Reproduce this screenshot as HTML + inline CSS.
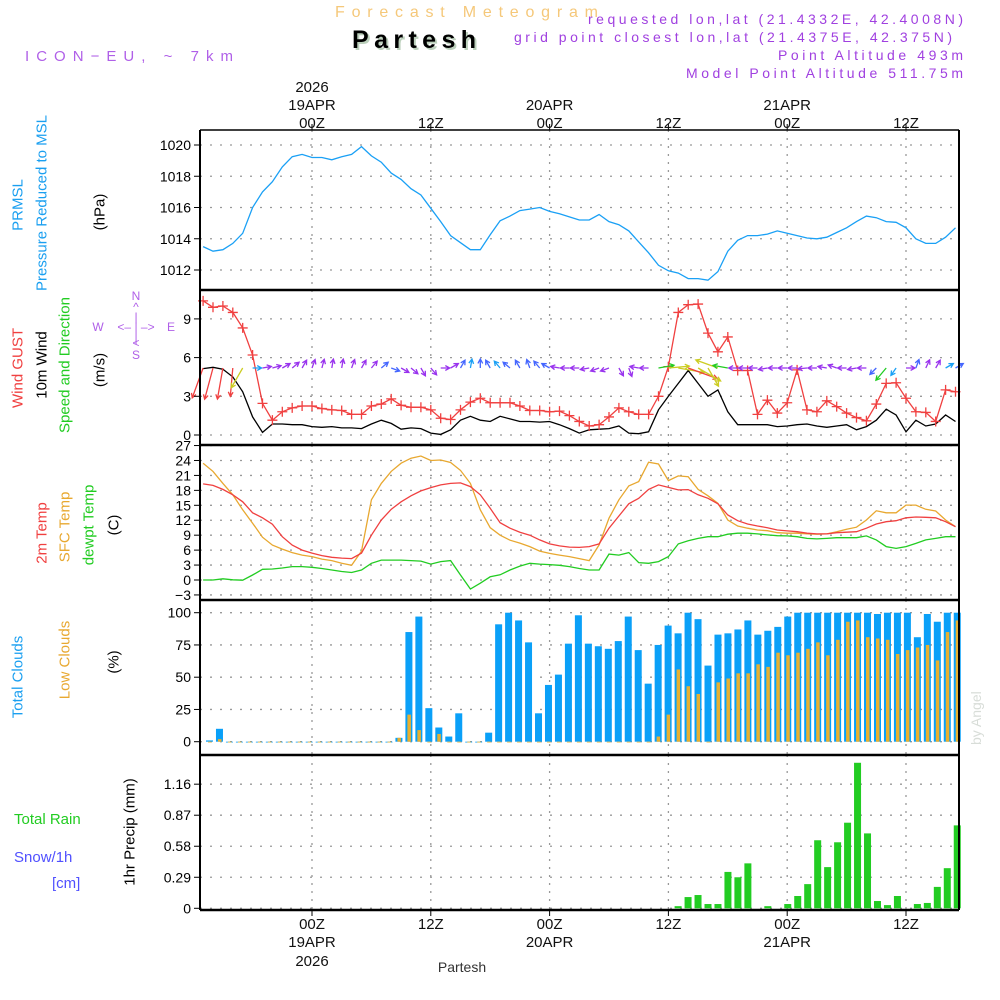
<!DOCTYPE html>
<html><head><meta charset="utf-8"><style>
html,body{margin:0;padding:0;background:#fff}
svg{display:block}
text{font-family:"Liberation Sans",sans-serif}
</style></head><body>
<svg id="chart" width="1000" height="1000" viewBox="0 0 1000 1000" xmlns="http://www.w3.org/2000/svg">
<rect x="0" y="0" width="1000" height="1000" fill="#fff"/>
<text x="335" y="17" font-size="16" fill="#f5c87a" textLength="263">Forecast Meteogram</text>
<text x="354" y="50" font-size="25" font-weight="bold" fill="#bcd0bc" font-family="Liberation Mono" textLength="124">Partesh</text>
<text x="352" y="48" font-size="25" font-weight="bold" fill="#000" font-family="Liberation Mono" textLength="124">Partesh</text>
<text x="25" y="61" font-size="15" fill="#b060e8" textLength="208">ICON−EU, ~ 7km</text>
<text x="588" y="24" font-size="14" fill="#a040e0" textLength="375">requested lon,lat (21.4332E, 42.4008N)</text>
<text x="514" y="42" font-size="14" fill="#a040e0" textLength="438">grid point closest lon,lat (21.4375E, 42.375N)</text>
<text x="778" y="60" font-size="14" fill="#a040e0" textLength="185">Point Altitude 493m</text>
<text x="686" y="78" font-size="14" fill="#a040e0" textLength="277">Model Point Altitude 511.75m</text>
<text x="0" y="0" font-size="14" fill="#d8ddd8" font-family="Liberation Serif" transform="translate(981,745) rotate(-90)">by Angel</text>
<text x="462" y="972" font-size="14" fill="#333" font-family="Liberation Mono" text-anchor="middle">Partesh</text>
<g id="labels"></g>
<g id="grid"></g>
<g id="marks"></g>
<g id="frame"></g>
</svg>
<script>
// ---- data (hourly from h=-11, hours relative to 00Z 19APR) ----
const startHour = -11;
const pressure = [1013.5,1013.2,1013.3,1013.7,1014.35,1016.0,1017.0,1017.65,1018.6,1019.25,1019.4,1019.2,1019.2,1019.05,1019.25,1019.4,1019.9,1019.3,1018.9,1018.2,1017.8,1017.2,1016.8,1015.95,1015.1,1014.2,1013.75,1013.3,1013.3,1014.25,1015.15,1015.45,1015.8,1015.9,1016.0,1015.75,1015.6,1015.4,1015.2,1015.2,1015.55,1015.1,1014.9,1014.5,1013.8,1013.1,1012.3,1011.95,1011.8,1011.45,1011.45,1011.35,1011.9,1013.2,1013.9,1014.2,1014.2,1014.3,1014.5,1014.35,1014.2,1014.05,1014.0,1014.1,1014.4,1014.7,1015.1,1015.45,1015.35,1015.1,1015.05,1014.7,1014.0,1013.7,1013.7,1014.1,1014.7];
const gust = [10.4,9.9,10.0,9.5,8.3,6.2,2.45,1.15,1.8,2.1,2.25,2.25,2.05,1.95,1.9,1.6,1.6,2.25,2.4,2.8,2.3,2.15,2.15,1.95,1.3,1.2,1.95,2.55,2.85,2.5,2.5,2.5,2.25,1.9,1.9,1.8,1.85,1.5,1.05,0.7,0.8,1.4,2.1,1.8,1.6,1.6,3.0,5.3,9.5,10.1,10.15,7.9,6.45,7.6,5.0,5.0,1.6,2.7,1.7,2.5,5.05,1.95,1.8,2.65,2.2,1.7,1.35,1.1,2.4,4.0,4.05,2.85,1.8,1.75,1.05,3.5,3.35];
const windSpeed = [5.15,5.25,5.1,4.5,3.35,1.4,0.2,0.85,0.85,0.8,0.8,0.65,0.6,0.65,0.55,0.55,0.5,0.85,1.15,0.9,0.45,0.55,0.5,0.15,0.05,0.4,1.15,1.45,1.15,1.05,1.45,1.25,1.05,1.05,1.0,1.05,0.8,0.5,0.15,0.4,0.45,0.5,0.7,0.15,0.1,0.25,1.95,3.0,4.0,5.0,4.0,3.0,3.5,1.8,0.8,0.8,0.8,0.8,0.65,0.7,0.8,0.85,0.7,0.6,0.7,0.8,0.4,0.65,1.15,2.0,1.55,0.25,1.15,0.7,0.85,1.55,1.05];
const windDir = [-110,-105,-100,-95,-120,0,10,15,30,40,60,70,75,80,80,70,60,50,40,-20,-30,-40,-60,-50,0,30,60,80,90,120,130,140,120,110,130,150,170,180,180,190,200,200,-60,-70,170,180,10,5,-10,-20,-30,-60,160,170,180,180,180,190,180,180,180,185,180,170,160,180,190,180,225,230,235,0,70,65,60,30,30];
const temp2m = [19.3,19.0,18.2,17.1,15.7,13.5,12.5,11.2,8.7,7.0,6.0,5.4,4.9,4.55,4.4,4.3,5.4,9.0,12.05,14.2,15.7,16.9,17.9,18.55,19.1,19.4,19.5,18.75,17.1,14.4,11.5,10.4,9.6,9.0,8.05,7.25,6.85,6.6,6.55,6.7,7.25,10.4,12.85,15.3,16.4,18.2,19.1,18.6,18.1,18.15,17.1,16.4,15.3,13.05,11.9,11.25,10.85,10.5,10.05,9.85,9.7,9.4,9.25,9.25,9.5,9.6,9.7,10.4,11.25,11.7,11.9,12.5,12.65,12.6,12.5,11.7,10.7];
const tempSfc = [23.45,21.8,19.4,17.1,14.1,11.4,8.6,7.0,6.2,5.5,5.0,4.7,4.2,3.9,3.35,2.95,5.8,16.1,19.4,21.8,23.45,24.45,24.9,24.0,24.1,23.6,22.0,19.4,14.1,10.5,9.0,8.0,7.4,6.7,5.8,5.35,5.0,4.7,4.3,3.9,7.05,12.4,16.1,18.9,19.75,23.65,23.3,19.95,20.9,20.75,18.2,16.9,15.4,12.05,10.85,10.4,10.05,9.9,9.5,9.4,9.4,9.25,9.2,9.25,9.7,10.2,10.6,12.05,13.9,13.5,13.5,15.05,15.05,14.2,13.85,12.05,10.7];
const dewpoint = [0,0,0.25,0.05,-0.05,1.0,2.15,2.2,2.4,2.7,2.7,2.55,2.3,2.0,1.7,1.5,2.0,3.35,4.0,4.0,4.0,3.9,3.8,3.2,3.7,3.9,1.0,-1.8,-0.65,0.65,1.05,2.0,2.8,3.35,3.2,3.1,2.95,2.7,2.3,2.0,2.0,5.2,5.0,5.5,3.5,3.35,3.7,4.7,7.25,7.9,8.35,8.7,8.7,9.2,9.4,9.4,9.25,9.05,8.9,8.85,8.7,8.35,8.25,8.35,8.5,8.5,8.5,8.85,8.05,6.7,6.35,6.7,7.35,8.05,8.35,8.7,8.7];
const totalClouds = [1,10,0,0,0,0,0,0,0,0,0,0,0,0,0,0,0,0,0,3,85,97,26,11,4,22,0,0,7,91,100,94,77,22,44,52,76,98,76,74,72,78,97,71,45,75,90,84,100,95,59,83,84,87,94,83,86,89,97,100,100,100,100,100,100,100,100,99,100,100,100,81,99,93,100,100];
const lowClouds = [0,2,0,0,0,0,0,0,0,0,0,0,0,0,0,0,0,0,0,3,21,9,0,6,0,0,0,0,0,0,0,0,0,0,0,0,0,0,0,0,0,0,0,0,0,4,21,56,43,37,0,46,49,53,53,60,58,69,67,69,72,77,67,79,93,94,81,80,79,68,71,73,75,63,85,94];
const precip = [0,0,0,0,0,0,0,0,0,0,0,0,0,0,0,0,0,0,0,0,0,0,0,0,0,0,0,0,0,0,0,0,0,0,0,0,0,0,0,0,0,0,0,0,0,0,0,0.02,0.105,0.124,0.04,0.04,0.34,0.29,0.42,0,0.02,0,0.04,0.115,0.226,0.636,0.385,0.617,0.80,1.36,0.70,0.068,0.03,0.115,0,0.04,0.05,0.2,0.375,0.775];
const pressureTicks = [1012,1014,1016,1018,1020];
const windTicks = [0,3,6,9];
const tempTicks = [-3,0,3,6,9,12,15,18,21,24,27];
const cloudTicks = [0,25,50,75,100];
const precipTicks = [0,0.29,0.58,0.87,1.16];
const timeTicks = [0,12,24,36,48,60];
const timeHour = ["00Z","12Z","00Z","12Z","00Z","12Z"];
const timeDay = ["19APR","","20APR","","21APR",""];

// ---- scales ----
const X0=200, X1=959;
function xs(h){return 312 + h*9.9;}
function xb(k){return 209.5 + k*9.97;}
function yP(v){return 145 + (1020-v)*15.625;}
function yW(v){return 435 - v*12.9;}
function yT(v){return 580 - v*4.98;}
function yC(v){return 741.7 - v*1.29;}
function yR(v){return 908.3 - v*107;}
const NS="http://www.w3.org/2000/svg";
function mk(tag, attrs, parent){const e=document.createElementNS(NS,tag);for(const k in attrs)e.setAttribute(k,attrs[k]);parent.appendChild(e);return e;}
const gL=document.getElementById('labels'), gG=document.getElementById('grid'), gM=document.getElementById('marks'), gF=document.getElementById('frame');

const panels=[{top:130,bot:290,ticks:pressureTicks,f:yP,fmt:v=>String(v),name:'pressure'},
 {top:290,bot:445,ticks:windTicks,f:yW,fmt:v=>String(v),name:'wind'},
 {top:445,bot:600,ticks:tempTicks,f:yT,fmt:v=>v<0?'−'+(-v):String(v),name:'temperature'},
 {top:600,bot:755,ticks:cloudTicks,f:yC,fmt:v=>String(v),name:'clouds'},
 {top:755,bot:910,ticks:precipTicks,f:yR,fmt:v=>v===0?'0':v.toFixed(2),name:'precip'}];

panels.forEach(p=>{
  p.ticks.forEach(t=>{
    const y=p.f(t);
    const l=mk('line',{x1:X0,x2:X1,y1:y,y2:y,stroke:'#999','stroke-width':1.3,'stroke-dasharray':'2,8'},gG);
    
    
    const tk=mk('line',{x1:X0-6,x2:X0,y1:y,y2:y,stroke:'#000','stroke-width':1},gF);
    
    
    const tx=mk('text',{x:X0-9,y:y+5,'font-size':14,'text-anchor':'end',fill:'#000'},gF);
    tx.textContent=p.fmt(t);
    
    
  });
  timeTicks.forEach(h=>{
    const l=mk('line',{x1:xs(h),x2:xs(h),y1:p.top,y2:p.bot,stroke:'#999','stroke-width':1.3,'stroke-dasharray':'2,6'},gG);
    
    
  });
});
[130,290,445,600,755,910].forEach((y,i)=>{
  const l=mk('line',{x1:X0,x2:X1,y1:y,y2:y,stroke:'#000','stroke-width':(i==0?1.5:2.5)},gF);
  
  
});
[X0,X1].forEach(x=>{const l=mk('line',{x1:x,x2:x,y1:130,y2:910,stroke:'#000','stroke-width':2},gF);
  
  });
timeTicks.forEach((h,i)=>{
  const x=xs(h);
  mk('line',{x1:x,x2:x,y1:124,y2:130,stroke:'#000'},gF);
  mk('line',{x1:x,x2:x,y1:910,y2:916,stroke:'#000'},gF);
  const t1=mk('text',{x:x,y:128,'font-size':15,'text-anchor':'middle',fill:'#111'},gF); t1.textContent=timeHour[i];
  
  
  const b1=mk('text',{x:x,y:929,'font-size':15,'text-anchor':'middle',fill:'#111'},gF); b1.textContent=timeHour[i];
  
  
  if(timeDay[i]){
    const t2=mk('text',{x:x,y:110,'font-size':15,'text-anchor':'middle',fill:'#111'},gF); t2.textContent=timeDay[i];
    
    
    const b2=mk('text',{x:x,y:947,'font-size':15,'text-anchor':'middle',fill:'#111'},gF); b2.textContent=timeDay[i];
    
    
  }
  if(i===0){
    const t3=mk('text',{x:x,y:92,'font-size':15,'text-anchor':'middle',fill:'#111'},gF); t3.textContent='2026';
    
    
    const b3=mk('text',{x:x,y:966,'font-size':15,'text-anchor':'middle',fill:'#111'},gF); b3.textContent='2026';
    
    
  }
});
function vlabel(txt,x,y,color,name,size){
  const t=mk('text',{x:0,y:0,'font-size':size||15,'text-anchor':'middle','dominant-baseline':'central',fill:color,transform:`translate(${x},${y}) rotate(-90)`},gL);
  t.textContent=txt;  
}
vlabel('PRMSL',18,205,'#1a9ff0','pressure-label-short');
vlabel('Pressure Reduced to MSL',42,203,'#1a9ff0','pressure-label');
vlabel('(hPa)',100,212,'#000','pressure-unit');
vlabel('Wind GUST',18,368,'#f04040','gust-label');
vlabel('10m Wind',42,365,'#000','wind-label');
vlabel('Speed and Direction',65,365,'#22cc22','wind-direction-label');
vlabel('(m/s)',100,370,'#000','wind-unit');
vlabel('2m Temp',42,533,'#f04040','temp2m-label');
vlabel('SFC Temp',65,527,'#e8a830','sfc-temp-label');
vlabel('dewpt Temp',89,525,'#22cc22','dewpoint-label');
vlabel('(C)',114,525,'#000','temp-unit');
vlabel('Total Clouds',18,677,'#1a9ff0','total-clouds-label');
vlabel('Low Clouds',65,660,'#e8a830','low-clouds-label');
vlabel('(%)',114,662,'#000','clouds-unit');
vlabel('1hr Precip (mm)',130,832,'#000','precip-unit');
function hlabel(txt,x,y,color,name){const t=mk('text',{x:x,y:y,'font-size':15,fill:color},gL);t.textContent=txt;}
hlabel('Total  Rain',14,824,'#22cc22','rain-label');
hlabel('Snow/1h',14,862,'#5050ff','snow-label');
hlabel('[cm]',52,888,'#5050ff','snow-unit');
const cg=mk('g',{fill:'#b060e8','font-size':12,'text-anchor':'middle'},gL);


[['N',136,300],['^',136,311],['|',136,321],['W',98,331],['<– | –>',136,331],['E',171,331],['|',136,342],['<',136,347],['S',136,359]].forEach(a=>{const t=mk('text',{x:a[1],y:a[2]},cg);t.textContent=a[0];});

function polyline(arr,f,color,name){
  const pts=arr.map((v,i)=>xs(startHour+i).toFixed(1)+','+f(v).toFixed(1)).join(' ');
  const p=mk('polyline',{points:pts,fill:'none',stroke:color,'stroke-width':1.3},gM);
  
  
  return p;
}
polyline(pressure,yP,'#1aa0f5','pressure-line');
polyline(windSpeed,yW,'#000','wind-speed-line');
polyline(gust,yW,'#f04040','gust-line');
gust.forEach((v,i)=>{
  const x=xs(startHour+i), y=yW(v);
  const m=mk('path',{d:`M${x-5},${y}H${x+5}M${x},${y-5}V${y+5}`,stroke:'#f04040','stroke-width':1.3},gM);
  
  
});
windDir.forEach((d,i)=>{
  const s=windSpeed[i], x=xs(startHour+i), y=368;
  const len= s>1.6 ? 6+s*5 : 9;
  const a=d*Math.PI/180, dx=Math.cos(a)*len, dy=-Math.sin(a)*len;
  const col = s<0.9?'#9933ee': s<1.3?'#4466ff': s<1.8?'#1aa0f5': s<3?'#22cc22': s<4.5?'#cccc22':'#f04040';
  const ex=x+dx, ey=y+dy, ha=Math.atan2(dy,dx);
  const h1x=ex-5*Math.cos(ha-0.5), h1y=ey-5*Math.sin(ha-0.5), h2x=ex-5*Math.cos(ha+0.5), h2y=ey-5*Math.sin(ha+0.5);
  const p=mk('path',{d:`M${x},${y}L${ex},${ey}M${h1x},${h1y}L${ex},${ey}L${h2x},${h2y}`,stroke:col,'stroke-width':1.3,fill:'none'},gM);
  
  
});
polyline(tempSfc,yT,'#e8a830','sfc-temp-line');
polyline(temp2m,yT,'#f04040','temp2m-line');
polyline(dewpoint,yT,'#22cc22','dewpoint-line');
totalClouds.forEach((v,i)=>{
  const x=xb(i);
  const b=mk('rect',{x:x-3.5,y:yC(v),width:7,height:Math.max(0.8,yC(0)-yC(v)),fill:'#0aa0f8'},gM);
  
  
});
lowClouds.forEach((v,i)=>{
  const x=xb(i);
  const b=mk('rect',{x:x-1.5,y:yC(v),width:3.5,height:Math.max(0.8,yC(0)-yC(v)),fill:'#e8b030'},gM);
  
  
});
precip.forEach((v,i)=>{
  if(v<=0) return;
  const x=xb(i);
  const b=mk('rect',{x:x-3.5,y:yR(v),width:7,height:yR(0)-yR(v),fill:'#22cc22'},gM);
  
  
});
</script>
</body></html>
